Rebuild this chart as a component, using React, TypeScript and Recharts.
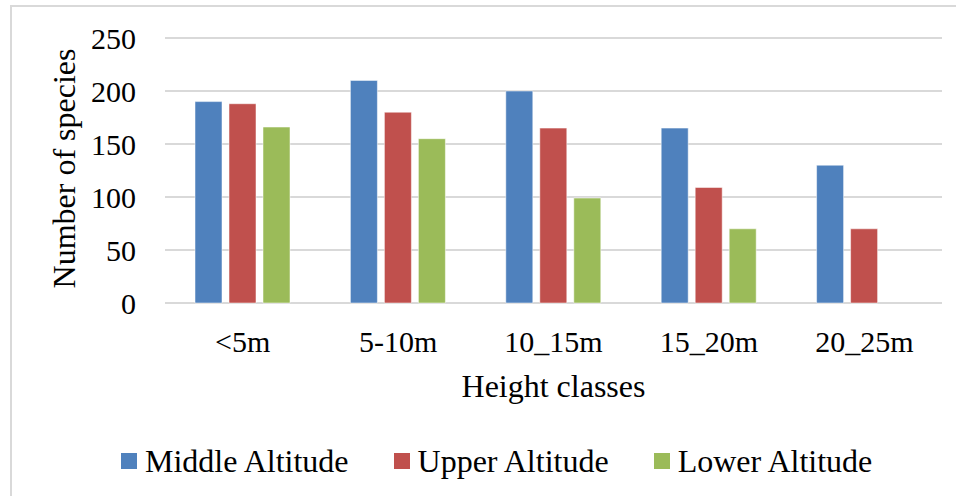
import { BarChart, Bar, XAxis, YAxis, CartesianGrid, Legend, Label } from 'recharts';

const categories = ['<5m', '5-10m', '10_15m', '15_20m', '20_25m'];
const middleAltitude = [190, 210, 200, 165, 130];
const upperAltitude = [188, 180, 165, 109, 70];
const lowerAltitude = [166, 155, 99, 70, null];
const yTicks = [0, 50, 100, 150, 200, 250];

const series = [
  { key: 'middle', name: 'Middle Altitude', color: '#4F81BD' },
  { key: 'upper', name: 'Upper Altitude', color: '#C0504D' },
  { key: 'lower', name: 'Lower Altitude', color: '#9BBB59' },
];

const data = categories.map((name, i) => ({
  name,
  middle: middleAltitude[i],
  upper: upperAltitude[i],
  lower: lowerAltitude[i],
}));

const FONT = '"Liberation Serif", "Times New Roman", serif';

const YLabel = ({ viewBox }: any) => {
  const cy = viewBox.y + viewBox.height / 2 - 2;
  return (
    <text
      x={64}
      y={cy}
      transform={`rotate(-90, 64, ${cy})`}
      textAnchor="middle"
      dominantBaseline="central"
      fontFamily={FONT}
      fontSize={32}
      fill="#000"
    >
      Number of species
    </text>
  );
};

const XLabel = ({ viewBox }: any) => (
  <text
    x={viewBox.x + viewBox.width / 2}
    y={386}
    textAnchor="middle"
    dominantBaseline="central"
    fontFamily={FONT}
    fontSize={32}
    fill="#000"
  >
    Height classes
  </text>
);

const LegendContent = () => (
  <div style={{ height: 40, display: 'flex', alignItems: 'center', paddingLeft: 121, fontFamily: FONT, fontSize: 32, color: '#000' }}>
    {series.map((s) => (
      <div key={s.key} style={{ display: 'flex', alignItems: 'center', marginRight: 45 }}>
        <span style={{ width: 16, height: 16, background: s.color, marginRight: 8, display: 'inline-block' }} />
        <span style={{ whiteSpace: 'nowrap' }}>{s.name}</span>
      </div>
    ))}
  </div>
);

export default function App() {
  return (
    <div style={{ position: 'absolute', left: 0, top: 0, width: 956, height: 496, overflow: 'hidden', background: '#fff' }}>
      <div
        style={{
          position: 'absolute',
          left: 10,
          top: 5,
          width: 980,
          height: 520,
          borderLeft: '2px solid #d9d9d9',
          borderTop: '2px solid #d9d9d9',
        }}
      />
      <BarChart
        width={956}
        height={496}
        data={data}
        margin={{ top: 38, right: 14, left: 0, bottom: 15 }}
        barSize={27}
        barGap={7}
        style={{ position: 'absolute', left: 0, top: 0 }}
      >
        <CartesianGrid vertical={false} stroke="#d9d9d9" strokeWidth={2} />
        <XAxis
          dataKey="name"
          height={138}
          axisLine={false}
          tickLine={false}
          tickSize={0}
          tickMargin={28}
          tick={{ fontFamily: FONT, fontSize: 30, fill: '#000' }}
        >
          <Label content={XLabel} />
        </XAxis>
        <YAxis
          width={165}
          domain={[0, 250]}
          ticks={yTicks}
          axisLine={false}
          tickLine={false}
          tickSize={0}
          tickMargin={29}
          tick={{ fontFamily: FONT, fontSize: 30, fill: '#000' }}
        >
          <Label content={YLabel} />
        </YAxis>
        <Legend verticalAlign="bottom" align="left" height={40} content={LegendContent} />
        {series.map((s) => (
          <Bar
            key={s.key}
            dataKey={s.key}
            name={s.name}
            fill={s.color}
            stroke="#ffffff"
            strokeOpacity={0.5}
            strokeWidth={1}
            isAnimationActive={false}
          />
        ))}
      </BarChart>
    </div>
  );
}
